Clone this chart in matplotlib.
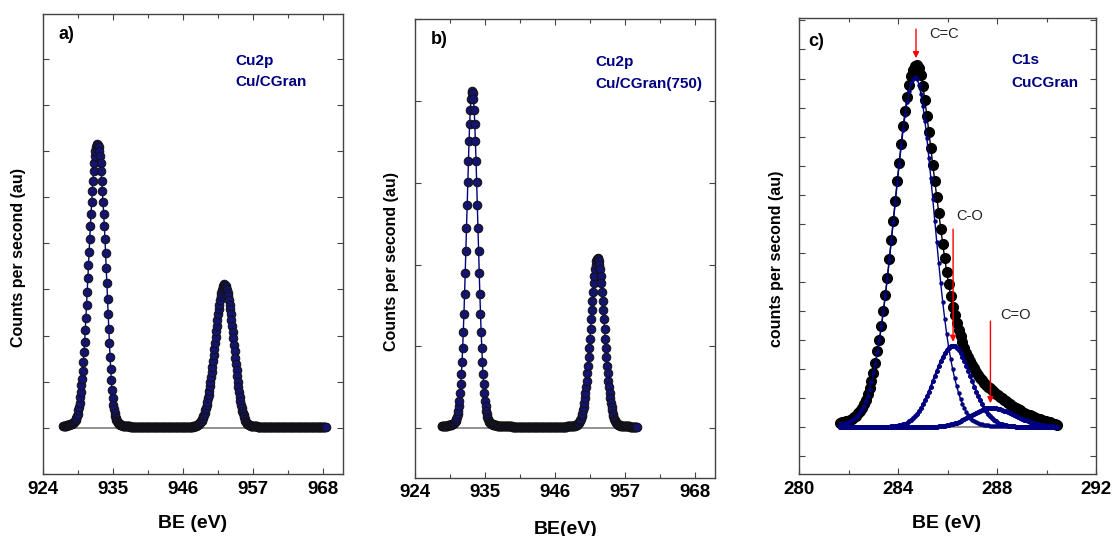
import numpy as np
import matplotlib
matplotlib.use("Agg")
import matplotlib.pyplot as plt
from matplotlib.ticker import MultipleLocator

plt.rcParams['font.family'] = ['Liberation Sans', 'DejaVu Sans']

# ---------------- data ----------------
# panel a : Cu2p, Cu/CGran  (BE grid start / step, eV)
a_x0, a_step = 927.15, 0.1
a_y = [
    .04, .042, .044, .046, .048, .05, .053, .056, .06,
    .065, .07, .075, .08, .085, .09,
    .10, .11, .12, .13, .15, .18, .21, .26, .31,
    .38, .46, .55, .66, .78, .92, 1.07, 1.24, 1.43, 1.64, 1.87, 2.12, 2.38, 2.66, 2.95,
    3.25, 3.53, 3.81, 4.09, 4.37, 4.63, 4.89, 5.13, 5.36, 5.56, 5.74, 5.89, 6.00, 6.09, 6.14,
    6.16,
    6.14, 6.09, 6.00, 5.89, 5.74, 5.56, 5.36, 5.13, 4.89, 4.63, 4.37, 4.09, 3.78, 3.46, 3.13,
    2.80, 2.47, 2.14, 1.83, 1.54, 1.27, 1.03, .82, .64, .50, .40, .32, .26, .21, .17,
    .14, .12, .10, .09, .08, .07, .065, .06, .055, .05, .045,
    .04, .04, .04, .04, .038, .036, .035, .034, .033, .032, .031, .03, .03, .029, .028,
    .027, .027, .026, .026, .025, .025, .024, .024, .023, .023,
    .023, .022, .022, .022, .022, .021, .021, .021, .021, .021,
    .02, .02, .02, .02, .02, .02, .02, .02, .02, .02,
    .02, .02, .02, .02, .02, .02, .02, .02, .02, .02,
    .02, .02, .02, .02, .02, .02, .02, .02, .02, .02,
    .02, .02, .02, .02, .02, .02, .02, .02, .02, .02,
    .02, .02, .02, .02, .02, .02, .02, .02, .02, .02,
    .02, .02, .02, .02, .02, .02, .02, .02, .02, .02,
    .021, .021, .022, .022, .023, .023, .024, .025, .026, .027, .028, .029, .03, .031, .033, .035, .037,
    .04, .045, .05, .06, .07, .08, .09, .10, .12, .14, .16, .19, .22, .25, .29, .33, .38, .44, .50, .57,
    .64, .72, .80, .90, 1.00, 1.10, 1.21, 1.33, 1.45, 1.57, 1.70, 1.83, 1.96, 2.09, 2.21, 2.34, 2.46,
    2.57, 2.67, 2.77, 2.86, 2.93, 2.99, 3.04, 3.08, 3.10,
    3.11,
    3.10, 3.08, 3.04, 2.99, 2.93, 2.86, 2.77, 2.67, 2.57, 2.46, 2.34, 2.21, 2.08, 1.94, 1.80, 1.66,
    1.52, 1.38, 1.25, 1.12, 1.00, .88, .77, .67, .58, .50, .43, .37, .32, .27, .23, .19, .16, .13,
    .11, .09, .08, .07, .06, .055, .05, .045, .04,
    .039, .038, .037, .036, .035, .034, .033, .032, .031, .03,
    .03, .03, .029, .029, .028, .028, .028, .027, .027, .027,
    .026, .026, .026, .026, .025, .025, .025, .025, .025, .024,
    .024, .024, .024, .024, .024, .023, .023, .023, .023, .023,
    .023, .023, .022, .022, .022, .022, .022, .022, .022, .022,
    .022, .022, .021, .021, .021, .021, .021, .021, .021, .021,
    .021, .021, .021, .021, .021, .021, .02, .02, .02, .02,
    .02, .02, .02, .02, .02, .02, .02, .02, .02, .02,
    .02, .02, .02, .02, .02, .02, .02, .02, .02, .02,
    .02, .02, .02, .02, .02, .02, .02, .02, .02, .02,
    .02, .02, .02, .02, .02, .02, .02, .02, .02, .02,
    .02, .02, .02, .02, .02, .02,
]

# panel b : Cu2p, Cu/CGran(750)
b_x0, b_step = 928.24, 0.1
b_y = [
    .025, .025, .025, .028, .028, .03, .03, .03, .032, .033, .035, .036, .038,
    .04, .042, .045, .048, .052, .056, .062, .07, .08, .09, .11, .14, .17, .21, .27,
    .34, .43, .54, .66, .81, .98, 1.18, 1.40, 1.64, 1.90, 2.17, 2.45, 2.73, 3.01, 3.27, 3.51,
    3.72, 3.89, 4.02, 4.09,
    4.12,
    4.09, 4.02, 3.89, 3.72, 3.51, 3.27, 3.01, 2.73, 2.45, 2.17, 1.90, 1.64, 1.40, 1.18, .98, .81,
    .66, .54, .43, .34,
    .27, .21, .17, .14, .11, .09, .08, .07, .06, .055, .05, .048, .045, .042, .04, .038, .036,
    .035, .034, .033,
    .032, .031, .03, .03, .029, .028, .028, .027, .026, .026, .025, .025,
    .025, .024, .024, .024, .024, .023, .023, .023, .023, .023,
    .022, .022, .022, .022, .022, .022, .022, .022, .022, .022,
    .021, .021, .021, .021, .021, .021, .021, .021, .021, .021,
    .021, .021, .02, .02, .02, .02, .02, .02, .02, .02,
    .02, .02, .02, .02, .02, .02, .02, .02, .02, .02,
    .02, .02, .02, .02, .02, .02, .02, .02, .02, .02,
    .02, .02, .02, .02, .02, .02, .02, .02, .02, .02,
    .02, .02, .02, .02, .02, .02, .02, .02, .02, .02,
    .02, .02, .02, .02, .02, .021, .021, .021, .021, .021,
    .021, .021, .021, .021,
    .022, .022, .023, .023, .024, .024, .025, .025, .026, .027,
    .028, .029, .03, .031, .033, .035, .037, .04, .045, .05, .06, .07, .085, .10, .12, .15, .18,
    .22, .26, .31, .37, .43, .50, .58, .67, .76, .87, .98, 1.09, 1.21, 1.33, 1.45, 1.56, 1.67,
    1.77, 1.86, 1.94, 2.00, 2.04, 2.065,
    2.075,
    2.065, 2.04, 2.00, 1.94, 1.86, 1.77, 1.67, 1.56, 1.45, 1.33, 1.21, 1.09, .98, .87, .76, .67,
    .58, .50, .43, .37, .31, .26, .22, .18, .15, .12, .10, .085, .07, .06, .05, .045, .04, .037,
    .035, .033, .031, .03, .029, .028,
    .027, .027, .026, .026, .025, .025, .024, .024, .023, .023, .022, .022, .022, .021, .021,
    .021, .02, .02, .02, .02, .02, .02,
]

# panel c : C1s, CuCGran  (measured envelope and fitted components)
c_x0, c_step = 281.64, 0.08
c_data = [
    .16, .17, .19, .21, .23, .26, .30, .35, .40, .48,
    .57, .67, .80, .94, 1.13, 1.34, 1.60, 1.88, 2.22, 2.61,
    3.02, 3.49, 4.00, 4.55, 5.15, 5.78, 6.43, 7.10, 7.78, 8.46,
    9.11, 9.75, 10.35, 10.88, 11.37, 11.77, 12.09, 12.31, 12.44, 12.46,
    12.35, 12.12, 11.75, 11.25, 10.72, 10.17, 9.60, 9.03, 8.47, 7.92,
    7.38, 6.84, 6.32, 5.82, 5.36, 4.93, 4.53, 4.14, 3.86, 3.60,
    3.36, 3.13, 2.92, 2.74, 2.57, 2.42, 2.28, 2.15, 2.03, 1.92,
    1.81, 1.71, 1.62, 1.54, 1.47, 1.40, 1.34, 1.28, 1.22, 1.16,
    1.10, 1.05, 1.00, .95, .90, .85, .80, .75, .70, .66,
    .62, .58, .54, .50, .47, .44, .41, .38, .35, .32,
    .30, .27, .25, .23, .21, .19, .17, .15, .13, .11, .09,
]
c_cc = [
    .10, .11, .13, .15, .17, .20, .24, .29, .34, .42,
    .51, .62, .75, .90, 1.09, 1.31, 1.57, 1.86, 2.19, 2.58,
    3.00, 3.47, 3.98, 4.53, 5.12, 5.75, 6.40, 7.06, 7.73, 8.40,
    9.04, 9.66, 10.24, 10.75, 11.20, 11.56, 11.83, 12.00, 12.05, 11.99,
    11.79, 11.48, 11.06, 10.54, 9.94, 9.28, 8.58, 7.84, 7.10, 6.37,
    5.65, 4.96, 4.32, 3.74, 3.22, 2.76, 2.36, 2.01, 1.70, 1.43,
    1.19, .98, .80, .65, .52, .42, .33, .26, .21, .17,
    .14, .12, .10, .087, .075, .066, .059, .053, .048, .044,
    .041, .039, .037, .035, .033, .031, .030, .029, .028, .027,
    .026, .025, .024, .023, .022, .021, .020, .020, .019, .018,
    .018, .017, .017, .016, .016, .015, .015, .015, .014, .014, .014,
]
c_co = [
    .005, .005, .005, .005, .006, .006, .006, .006, .007, .007,
    .007, .008, .008, .009, .009, .010, .010, .011, .012, .013,
    .014, .015, .017, .019, .022, .025, .030, .035, .043, .053,
    .065, .081, .102, .128, .160, .200, .249, .308, .378, .460,
    .556, .665, .787, .923, 1.072, 1.232, 1.402, 1.578, 1.757, 1.936,
    2.110, 2.274, 2.424, 2.555, 2.663, 2.744, 2.793, 2.810, 2.793, 2.744,
    2.663, 2.555, 2.424, 2.274, 2.110, 1.936, 1.757, 1.578, 1.402, 1.232,
    1.072, .923, .787, .665, .556, .460, .378, .308, .249, .200,
    .160, .128, .102, .081, .065, .053, .043, .035, .030, .025,
    .022, .019, .017, .015, .014, .013, .012, .011, .010, .010,
    .009, .009, .008, .008, .007, .007, .007, .006, .006, .006, .006,
]
c_cdo = [
    .001, .001, .001, .001, .001, .002, .002, .002, .002, .002,
    .002, .002, .002, .002, .002, .002, .002, .002, .003, .003,
    .003, .003, .003, .003, .003, .003, .004, .004, .004, .004,
    .004, .004, .005, .005, .005, .005, .006, .006, .007, .007,
    .008, .008, .009, .010, .011, .013, .015, .018, .022, .026,
    .032, .038, .046, .056, .068, .081, .097, .116, .136, .160,
    .186, .215, .247, .281, .317, .354, .393, .432, .470, .508,
    .543, .576, .605, .630, .649, .662, .669, .669, .664, .654,
    .640, .621, .599, .574, .546, .517, .486, .453, .421, .388,
    .356, .324, .294, .265, .237, .211, .187, .164, .144, .125,
    .108, .093, .080, .068, .058, .049, .042, .035, .030, .025, .021,
]
baseline = 0.0

# peak annotations in panel c (label, arrow x, arrow top, arrow tip, text x, text y)
c_labels = ['C=C', 'C-O', 'C=O']
c_arrow_x = [284.72, 286.22, 287.73]
c_arrow_top = [13.7, 6.82, 3.65]
c_arrow_tip = [12.7, 2.94, 0.83]
c_text_x = [285.84, 286.89, 288.74]
c_text_y = [13.53, 7.27, 3.86]

# ---------------- figure ----------------
W, H = 1113, 536
fig = plt.figure(figsize=(W / 100, H / 100), dpi=100)
NAVY = '#000080'


def box(l, t, r, b):
    return [l / W, 1 - b / H, (r - l) / W, (b - t) / H]


def style(ax, xlim, ylim, xmaj, xmin_, ticks):
    ax.set_xlim(*xlim)
    ax.set_ylim(*ylim)
    ax.xaxis.set_major_locator(MultipleLocator(xmaj))
    ax.xaxis.set_minor_locator(MultipleLocator(xmin_))
    ax.yaxis.set_major_locator(MultipleLocator(1))
    ax.set_xticks(ticks)
    ax.set_xticklabels([str(t) for t in ticks], fontsize=13.5, fontweight='bold')
    ax.set_yticklabels([])
    ax.tick_params(which='both', direction='in', top=True, right=True,
                   color='#444444', width=0.8, pad=5)
    ax.tick_params(which='major', length=4)
    ax.tick_params(which='minor', length=3)
    for s in ax.spines.values():
        s.set_color('#444444')
        s.set_linewidth(1.0)


def ftext(x, y, s, **kw):
    fig.text(x / W, 1 - y / H, s, **kw)


# panel a
axA = fig.add_axes(box(43, 14.4, 343, 474.1))
ax_x = a_x0 + a_step * np.arange(len(a_y))
axA.plot([ax_x[0], ax_x[-1]], [baseline, baseline], color='#808080', lw=1.2, zorder=1)
axA.plot(ax_x, a_y, '-', color=NAVY, lw=1, marker='o', ms=6.2, mfc='#14146e',
         mec='#111111', mew=0.7, zorder=2)
style(axA, (924, 971.2), (-1, 8.96), 11, 5.5, [924, 935, 946, 957, 968])

# panel b
axB = fig.add_axes(box(414.7, 18.8, 715, 477.5))
bx = b_x0 + b_step * np.arange(len(b_y))
axB.plot([bx[0], bx[-1]], [baseline, baseline], color='#808080', lw=1.2, zorder=1)
axB.plot(bx, b_y, '-', color=NAVY, lw=1, marker='o', ms=6.2, mfc='#14146e',
         mec='#111111', mew=0.7, zorder=2)
style(axB, (924, 971.2), (-0.6, 5.0), 11, 5.5, [924, 935, 946, 957, 968])

# panel c
axC = fig.add_axes(box(799.3, 17.8, 1096, 474.1))
cx = c_x0 + c_step * np.arange(len(c_data))
axC.plot([cx[0], cx[-1]], [baseline, baseline], color='#808080', lw=1.2, zorder=1)
axC.plot(cx, c_data, '-', color='black', lw=1, marker='o', ms=7, mfc='black',
         mec='black', zorder=2)
axC.plot(cx, c_cc, '-', color=NAVY, lw=1.0, marker='o', ms=2.2, mfc=NAVY, mec=NAVY, zorder=3)
axC.plot(cx, c_co, '-', color=NAVY, lw=1.6, marker='o', ms=2.6, mfc=NAVY, mec=NAVY, zorder=3)
axC.plot(cx, c_cdo, '-', color=NAVY, lw=1.6, marker='o', ms=2.6, mfc=NAVY, mec=NAVY, zorder=3)
style(axC, (280, 292), (-1.61, 14.09), 4, 2, [280, 284, 288, 292])
for lab, x, y0, y1, tx, ty in zip(c_labels, c_arrow_x, c_arrow_top, c_arrow_tip, c_text_x, c_text_y):
    axC.annotate('', xy=(x, y1), xytext=(x, y0),
                 arrowprops=dict(arrowstyle='-|>', color='red', lw=1.0, mutation_scale=9,
                                 shrinkA=0, shrinkB=0), zorder=5)
    axC.text(tx, ty, lab, fontsize=10.5, color='#222222', ha='center', va='center')

# labels
lab_kw = dict(fontsize=11.5, fontweight='bold', rotation=90, ha='center', va='center')
ftext(19, 257, 'Counts per second (au)', **lab_kw)
ftext(391.7, 261.5, 'Counts per second (au)', **lab_kw)
ftext(777, 258.8, 'counts per second (au)', **lab_kw)

xl_kw = dict(fontsize=14, fontweight='bold', ha='center', va='center')
ftext(192.7, 523, 'BE (eV)', **xl_kw)
ftext(566, 529, 'BE(eV)', **xl_kw)
ftext(947, 523, 'BE (eV)', **xl_kw)

pk = dict(fontsize=13, fontweight='bold', ha='center', va='center')
ftext(66, 34.2, 'a)', **pk)
ftext(439.3, 39.3, 'b)', **pk)
ftext(816, 41.7, 'c)', **pk)

nv = dict(fontsize=11, fontweight='bold', color=NAVY, ha='left', va='center')
ftext(235, 60.8, 'Cu2p', **nv)
ftext(235, 82, 'Cu/CGran', **nv)
ftext(595.3, 62.2, 'Cu2p', **nv)
ftext(595.3, 83.7, 'Cu/CGran(750)', **nv)
ftext(1011.3, 60.5, 'C1s', **nv)
ftext(1011.3, 83, 'CuCGran', **nv)

fig.savefig('out.png', dpi=100, facecolor='white')
